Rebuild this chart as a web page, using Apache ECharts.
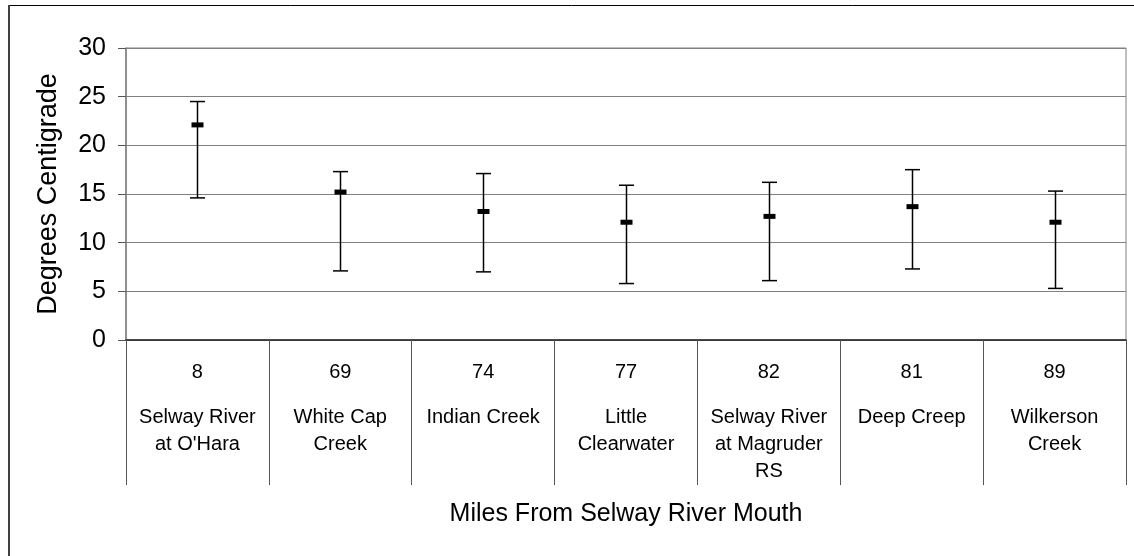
<!DOCTYPE html>
<html>
<head>
<meta charset="utf-8">
<script src="https://cdn.jsdelivr.net/npm/echarts@6/dist/echarts.min.js"></script>
<style>
html,body{margin:0;padding:0;background:#fff;}
#chart{width:1134px;height:556px;}
</style>
</head>
<body>
<div id="chart"></div>
<script>
var miles = ['8', '69', '74', '77', '82', '81', '89'];
var sites = ["Selway River\nat O'Hara", 'White Cap\nCreek', 'Indian Creek', 'Little\nClearwater', 'Selway River\nat Magruder\nRS', 'Deep Creep', 'Wilkerson\nCreek'];
var highs = [24.5, 17.3, 17.1, 15.9, 16.2, 17.5, 15.3];
var means = [22.1, 15.2, 13.2, 12.1, 12.7, 13.7, 12.1];
var lows  = [14.6, 7.1, 7.0, 5.8, 6.1, 7.3, 5.3];
var yTicks = [0, 5, 10, 15, 20, 25, 30];

var SANS = '"Liberation Sans", Arial, sans-serif';

var cats = miles.map(function (m, i) { return m + '|' + i; });
var data = miles.map(function (m, i) { return [i, lows[i], means[i], highs[i]]; });

var chart = echarts.init(document.getElementById('chart'), null, {renderer: 'canvas'});
chart.setOption({
  animation: false,
  backgroundColor: '#ffffff',
  grid: {left: 126, right: 8, top: 48, bottom: 216, show: true, borderColor: '#808080', borderWidth: 1, backgroundColor: 'transparent'},
  xAxis: {
    type: 'category',
    data: cats,
    boundaryGap: true,
    axisLine: {show: true, lineStyle: {color: '#222', width: 1.5}},
    axisTick: {show: true, interval: 0, length: 145, lineStyle: {color: '#555', width: 1}},
    axisLabel: {
      interval: 0, margin: 1,
      formatter: function (v, idx) {
        var lines = sites[idx].split('\n');
        var s = '{n|' + miles[idx] + '}';
        lines.forEach(function (l) { s += '\n{t|' + l + '}'; });
        return s;
      },
      rich: {
        n: {fontFamily: SANS, fontSize: 20, color: '#000', lineHeight: 63, align: 'center'},
        t: {fontFamily: SANS, fontSize: 20, color: '#000', lineHeight: 27, align: 'center'}
      }
    },
    name: 'Miles From Selway River Mouth',
    nameLocation: 'middle',
    nameGap: 162,
    nameTextStyle: {fontFamily: SANS, fontSize: 25, color: '#000'}
  },
  yAxis: {
    type: 'value',
    min: 0, max: 30, interval: 5,
    axisLine: {show: true, lineStyle: {color: '#808080', width: 1.5}},
    axisTick: {show: true, length: 8, lineStyle: {color: '#555'}},
    splitLine: {show: true, lineStyle: {color: '#808080', width: 1.2}},
    axisLabel: {fontFamily: SANS, fontSize: 25, color: '#000', margin: 20,
      formatter: function (v) { return yTicks.indexOf(v) >= 0 ? String(v) : ''; }},
    name: 'Degrees Centigrade',
    nameLocation: 'middle',
    nameGap: 64,
    nameRotate: 90,
    nameTextStyle: {fontFamily: SANS, fontSize: 27, color: '#000'}
  },
  series: [{
    type: 'custom',
    data: data,
    encode: {x: 0, y: [1, 3]},
    renderItem: function (params, api) {
      var i = api.value(0);
      var lo = api.coord([i, api.value(1)]);
      var mid = api.coord([i, api.value(2)]);
      var hi = api.coord([i, api.value(3)]);
      var x = Math.round(lo[0]) + 0.5;
      var capW = 7.5;
      var st = {stroke: '#000', lineWidth: 1.5};
      return {
        type: 'group',
        children: [
          {type: 'line', shape: {x1: x, y1: hi[1], x2: x, y2: lo[1]}, style: st},
          {type: 'line', shape: {x1: x - capW, y1: hi[1], x2: x + capW, y2: hi[1]}, style: st},
          {type: 'line', shape: {x1: x - capW, y1: lo[1], x2: x + capW, y2: lo[1]}, style: st},
          {type: 'rect', shape: {x: x - 6, y: mid[1] - 2.5, width: 12, height: 5}, style: {fill: '#000'}}
        ]
      };
    }
  }],
  graphic: [
    {type: 'line', silent: true, shape: {x1: 9, y1: 5.5, x2: 1134, y2: 5.5}, style: {stroke: '#000', lineWidth: 1}},
    {type: 'line', silent: true, shape: {x1: 9, y1: 5, x2: 9, y2: 556}, style: {stroke: '#404040', lineWidth: 2}}
  ]
});
</script>
</body>
</html>
